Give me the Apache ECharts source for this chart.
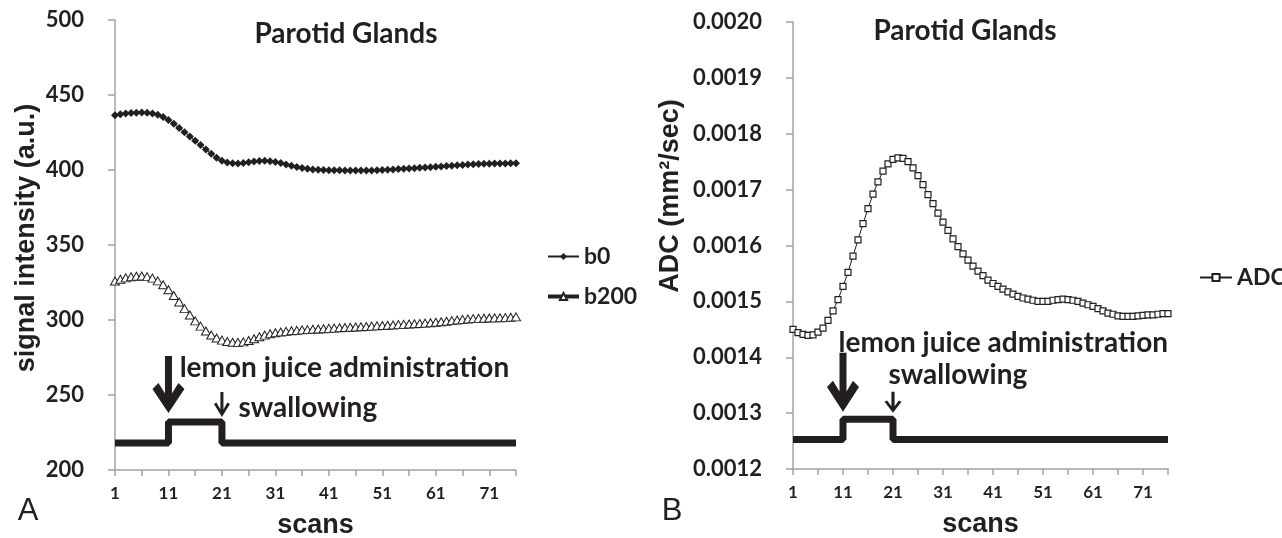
<!DOCTYPE html>
<html><head><meta charset="utf-8">
<script src="https://cdn.jsdelivr.net/npm/echarts/dist/echarts.min.js"></script>
<style>html,body{margin:0;padding:0;background:#fff}#c{width:1282px;height:538px}</style>
</head><body><div id="c"></div>
<script>
// scans 1..76 (category labels)
const scans = ['1','2','3','4','5','6','7','8','9','10','11','12','13','14','15','16','17','18','19','20',
'21','22','23','24','25','26','27','28','29','30','31','32','33','34','35','36','37','38','39','40',
'41','42','43','44','45','46','47','48','49','50','51','52','53','54','55','56','57','58','59','60',
'61','62','63','64','65','66','67','68','69','70','71','72','73','74','75','76'];

const b0 = [436.5,437.2,437.7,438.0,438.2,438.3,438.2,437.7,436.8,435.3,
433.3,430.8,428.0,425.2,422.3,419.5,416.6,413.7,410.8,408.2,
406.2,405.0,404.5,404.4,404.6,405.1,405.6,406.0,406.1,405.9,
405.4,404.6,403.7,402.8,402.0,401.3,400.8,400.4,400.1,400.0,
399.9,399.8,399.8,399.7,399.7,399.6,399.6,399.6,399.7,399.8,
400.0,400.2,400.4,400.6,400.8,401.0,401.2,401.5,401.7,401.9,
402.2,402.4,402.7,402.9,403.2,403.4,403.6,403.8,404.0,404.1,
404.2,404.3,404.4,404.4,404.5,404.5];

const b200 = [326.0,327.2,328.1,328.8,329.2,329.3,328.9,327.9,326.1,323.5,
320.2,316.3,312.0,307.6,303.3,299.4,295.9,292.7,290.0,288.0,
286.6,285.7,285.2,285.1,285.4,286.3,287.5,288.8,289.9,290.8,
291.5,292.0,292.4,292.8,293.1,293.4,293.6,293.8,294.0,294.2,
294.4,294.6,294.8,295.0,295.2,295.3,295.5,295.7,295.9,296.1,
296.3,296.5,296.7,296.9,297.1,297.3,297.5,297.7,297.9,298.2,
298.5,298.8,299.2,299.6,300.0,300.4,300.7,300.9,301.1,301.2,
301.3,301.4,301.5,301.6,301.8,302.1];

const adc = [0.001450,0.001444,0.001441,0.001439,0.001440,0.001445,0.001452,0.001466,0.001483,0.001503,
0.001527,0.001552,0.001581,0.001610,0.001639,0.001666,0.001692,0.001714,0.001733,0.001746,
0.001754,0.001757,0.001756,0.001750,0.001739,0.001725,0.001709,0.001691,0.001675,0.001658,
0.001642,0.001627,0.001612,0.001598,0.001585,0.001574,0.001563,0.001554,0.001546,0.001538,
0.001532,0.001527,0.001522,0.001517,0.001513,0.001509,0.001506,0.001504,0.001502,0.001500,
0.001500,0.001500,0.001502,0.001503,0.001504,0.001503,0.001502,0.001500,0.001497,0.001494,
0.001491,0.001487,0.001483,0.001479,0.001477,0.001474,0.001473,0.001473,0.001473,0.001474,
0.001475,0.001476,0.001476,0.001477,0.001478,0.001478];

// stimulus timeline (step): change points
const stepScans = ['1','11','21','76'];
const stepSignal = [218, 232, 218, 218];
const stepAdc = [0.001253, 0.001289, 0.001253, 0.001253];

// annotation anchors
const bigArrowScan = '11', smallArrowScan = '21';
const arrowTipSignal = [238.0, 235.3];
const arrowTipAdc = [0.0013024, 0.0013006];
const lemonText = 'lemon juice administration', swallowText = 'swallowing';
const lemonPosSignal = ['13', 268], swallowPosSignal = ['24', 241.5];
const lemonPosAdc = ['10', 0.0014258], swallowPosAdc = ['20', 0.001369];

const signalAxis = {min: 200, max: 500, interval: 50};
const adcAxis = {min: 0.0012, max: 0.0020, interval: 0.0001};

const INK = '#231f20', AXIS = '#a3a3a3';
const BIG_ARROW = 'path://M12.5,0L19.5,0L19.5,50L12.5,50ZM0,33L6,27L16,43L26,27L32,33L16,57Z';
const SMALL_ARROW = 'path://M6.5,0L9.5,0L9.5,22L6.5,22ZM0,12L2.5,10.5L8,20L13.5,10.5L16,12L8,25Z';
const annFont = {fontFamily: 'Lato', fontWeight: 'bold', fontSize: 28, color: INK};

function textMark(coord, text) {
  return {coord: coord, symbol: 'circle', symbolSize: 1, itemStyle: {color: 'rgba(0,0,0,0)'},
    label: Object.assign({show: true, position: 'right', distance: 0, formatter: text}, annFont)};
}
function arrowMark(coord, path, w, h) {
  return {coord: coord, symbol: path, symbolSize: [w, h], symbolOffset: [0, '-50%'],
    itemStyle: {color: INK}, label: {show: false}};
}

function xAx(gi) {
  return {type: 'category', gridIndex: gi, data: scans, boundaryGap: false,
    axisLine: {show: true, onZero: false, lineStyle: {color: AXIS, width: 1.5}},
    axisTick: {show: true, interval: 4, length: 6, lineStyle: {color: AXIS, width: 1.5}},
    axisLabel: {interval: 9, margin: 15, fontFamily: 'Lato', fontWeight: 'bold', fontSize: 17, color: INK},
    splitLine: {show: false},
    name: 'scans', nameLocation: 'middle', nameGap: 42,
    nameTextStyle: {fontFamily: 'Liberation Sans', fontWeight: 'bold', fontSize: 27, color: INK}};
}
function yAx(gi, ax, fmt) {
  return {type: 'value', gridIndex: gi, min: ax.min, max: ax.max, interval: ax.interval,
    axisLine: {show: true, lineStyle: {color: AXIS, width: 1.5}},
    axisTick: {show: true, length: 7, lineStyle: {color: AXIS, width: 1.5}},
    axisLabel: {margin: 31, fontFamily: 'Lato', fontWeight: 'bold', fontSize: 22, color: INK, formatter: fmt},
    splitLine: {show: false}};
}

const legendText = {fontFamily: 'Lato', fontWeight: 'bold', fontSize: 23, color: INK};
const titleText = {fontFamily: 'Lato', fontWeight: 'bold', fontSize: 28, color: INK};
const option = {
  animation: false,
  backgroundColor: '#fff',
  title: [
    {text: 'Parotid Glands', left: 346, top: 20, textAlign: 'center', padding: 0, textStyle: titleText},
    {text: 'Parotid Glands', left: 965, top: 17, textAlign: 'center', padding: 0, textStyle: titleText}
  ],
  legend: [
    {data: ['b0', {name: 'b200', lineStyle: {width: 4}}], orient: 'vertical', left: 546, top: 245,
     itemWidth: 31, itemHeight: 9, itemGap: 17, padding: 0, selectedMode: false, textStyle: legendText},
    {data: ['ADC'], orient: 'vertical', left: 1199, top: 266, itemWidth: 32, itemHeight: 9,
     padding: 0, selectedMode: false, textStyle: legendText}
  ],
  grid: [
    {left: 115, top: 20, width: 401, height: 450, outerBoundsMode: 'none'},
    {left: 793, top: 22, width: 375, height: 447, outerBoundsMode: 'none'}
  ],
  xAxis: [xAx(0), xAx(1)],
  yAxis: [yAx(0, signalAxis, v => String(v)), yAx(1, adcAxis, v => v.toFixed(4))],
  series: [
    {name: 'stimulus', type: 'line', xAxisIndex: 0, yAxisIndex: 0, step: 'end',
     data: stepScans.map((s, i) => [s, stepSignal[i]]), symbol: 'none',
     lineStyle: {width: 7, color: INK, cap: 'butt'}, z: 2, silent: true,
     markPoint: {silent: true, animation: false, data: [
       arrowMark([bigArrowScan, arrowTipSignal[0]], BIG_ARROW, 32, 57),
       arrowMark([smallArrowScan, arrowTipSignal[1]], SMALL_ARROW, 16, 25),
       textMark(lemonPosSignal, lemonText),
       textMark(swallowPosSignal, swallowText)
     ]}},
    {name: 'b0', type: 'line', xAxisIndex: 0, yAxisIndex: 0, data: b0,
     symbol: 'diamond', symbolSize: 8, showAllSymbol: true,
     itemStyle: {color: INK}, lineStyle: {color: INK, width: 1}, z: 3},
    {name: 'b200', type: 'line', xAxisIndex: 0, yAxisIndex: 0, data: b200,
     symbol: 'triangle', symbolSize: [9, 8], showAllSymbol: true,
     itemStyle: {color: '#fff', borderColor: INK, borderWidth: 1}, lineStyle: {color: INK, width: 1}, z: 3},
    {name: 'stimulusADC', type: 'line', xAxisIndex: 1, yAxisIndex: 1, step: 'end',
     data: stepScans.map((s, i) => [s, stepAdc[i]]), symbol: 'none',
     lineStyle: {width: 7, color: INK, cap: 'butt'}, z: 2, silent: true,
     markPoint: {silent: true, animation: false, data: [
       arrowMark([bigArrowScan, arrowTipAdc[0]], BIG_ARROW, 32, 59),
       arrowMark([smallArrowScan, arrowTipAdc[1]], SMALL_ARROW, 17, 21),
       textMark(lemonPosAdc, lemonText),
       textMark(swallowPosAdc, swallowText)
     ]}},
    {name: 'ADC', type: 'line', xAxisIndex: 1, yAxisIndex: 1, data: adc,
     symbol: 'rect', symbolSize: 6, showAllSymbol: true,
     itemStyle: {color: '#fff', borderColor: INK, borderWidth: 1.2}, lineStyle: {color: INK, width: 1}, z: 3}
  ],
  graphic: [
    {type: 'text', x: 27, y: 238, rotation: Math.PI / 2,
     style: {text: 'signal intensity (a.u.)', font: 'bold 27px "Liberation Sans"', fill: INK, align: 'center', verticalAlign: 'middle'}},
    {type: 'text', x: 671, y: 196, rotation: Math.PI / 2,
     style: {text: 'ADC (mm²/sec)', font: 'bold 27px "Liberation Sans"', fill: INK, align: 'center', verticalAlign: 'middle'}},
    {type: 'text', x: 28, y: 511,
     style: {text: 'A', font: '31px "Liberation Sans"', fill: INK, align: 'center', verticalAlign: 'middle'}},
    {type: 'text', x: 672, y: 511,
     style: {text: 'B', font: '31px "Liberation Sans"', fill: INK, align: 'center', verticalAlign: 'middle'}}
  ]
};
const chart = echarts.init(document.getElementById('c'), null, {renderer: 'canvas'});
chart.setOption(option);
</script></body></html>
